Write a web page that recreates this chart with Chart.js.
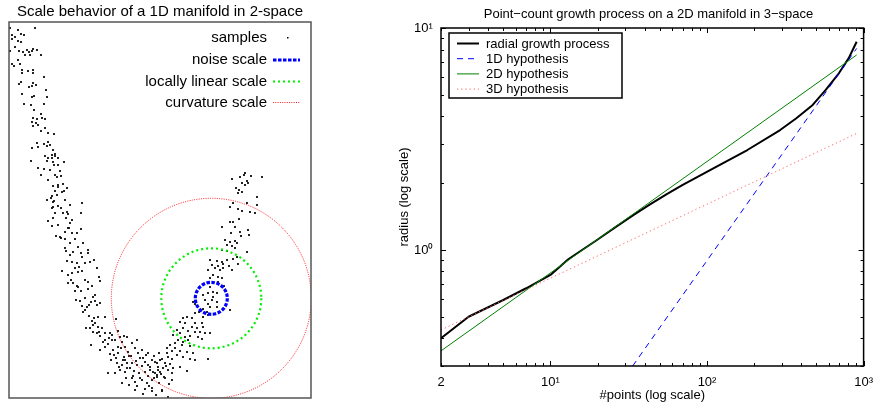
<!DOCTYPE html>
<html><head><meta charset="utf-8">
<script src="https://cdn.jsdelivr.net/npm/chart.js@4.4.0/dist/chart.umd.min.js"></script>
<style>
html,body{margin:0;padding:0;background:#fff;overflow:hidden;width:882px;height:406px;}
#cL{position:absolute;left:0;top:0;width:320px;height:406px;}
#cR{position:absolute;left:380px;top:0;width:502px;height:406px;}
</style></head><body>
<canvas id="cL" width="320" height="406"></canvas>
<canvas id="cR" width="502" height="406"></canvas>
<script>
// ---------- Left panel data ----------
const leftTitle = 'Scale behavior of a 1D manifold in 2-space';
const leftLegendLabels = ['samples', 'noise scale', 'locally linear scale', 'curvature scale'];
const samplePoints = [
[1,370],[9,368],[26,370],[3,363],[12,364],[15,363],[6,361],[3,359],[9,357],[12,356],[1,347],[6,351],[10,347],[14,346],[18,348],[20,346],[23,347],[24,349],[28,348],[21,343],[32,343],[16,343],[9,338],[3,334],[5,332],[11,334],[13,328],[19,327],[24,328],[24,325],[13,325],[35,321],[12,316],[10,314],[24,315],[27,313],[23,312],[20,311],[37,308],[13,304],[23,301],[25,302],[38,301],[15,294],[22,293],[35,294],[25,288],[32,284],[24,280],[28,279],[33,280],[36,279],[23,276],[27,275],[29,273],[24,272],[36,270],[32,267],[39,265],[45,264],[28,255],[35,254],[39,256],[23,250],[29,251],[38,252],[41,253],[44,248],[43,243],[46,244],[36,242],[39,240],[43,240],[46,242],[49,240],[22,237],[38,237],[44,236],[55,236],[45,233],[49,233],[29,230],[35,229],[41,228],[51,227],[46,223],[32,223],[52,222],[39,218],[48,221],[49,213],[54,214],[58,210],[44,212],[49,211],[46,207],[53,206],[55,207],[43,202],[48,203],[38,198],[42,200],[45,197],[56,198],[49,192],[44,191],[61,193],[73,195],
[44,196],[43,190],[46,185],[54,185],[58,186],[59,184],[72,185],[44,180],[39,177],[63,178],[61,175],[49,173],[43,172],[59,170],[72,169],[56,166],[63,165],[68,165],[47,162],[51,161],[56,159],[66,159],[61,155],[74,155],[69,151],[57,147],[64,146],[72,145],[79,148],[79,145],[61,143],[73,141],[85,138],[63,136],[68,135],[76,135],[81,136],[70,131],[88,130],[53,127],[63,125],[69,126],[73,127],[59,123],[76,118],[90,121],[79,116],[59,115],[64,115],[91,117],[83,112],[69,111],[66,107],[72,107],[79,109],[86,103],[84,101],[67,98],[86,97],[91,95],[82,96],[73,92],[78,91],[80,93],[88,93],[76,88],[85,80],[83,77],[89,81],[96,81],[107,79],[86,75],[77,70],[81,70],[89,71],[93,70],[84,66],[88,65],[96,65],[101,65],[91,62],[103,63],[109,67],[111,61],[118,61],[82,53],[94,56],[99,54],[103,58],[109,51],[96,51],[113,56],[116,51],[91,48],[101,44],[105,43],[109,45],[115,41],[122,42],[129,45],[133,48],[139,45],[134,40],[116,38],[102,38],[108,35],[113,33],[118,35],[123,35],[128,33],[133,32],[139,33],[143,38],[148,35],[153,39],[111,28],[116,26],[121,30],[125,27],[130,25],[136,26],[141,28],[146,25],[151,26],[99,25],[106,25],[113,15],[123,20],[126,16],[133,18],[138,15],[143,18],[148,23],[155,21],[126,8],[136,9],[143,7],[153,7],[120,13],
[223,219],[235,223],[253,221],[231,221],[238,217],[239,215],[236,213],[233,215],[227,210],[230,208],[229,205],[233,206],[248,201],[224,195],[238,195],[248,193],[221,191],[229,189],[233,187],[241,186],[246,185],[230,179],[221,176],[224,176],[213,171],[226,171],[239,168],[231,166],[222,165],[240,163],[232,162],[216,158],[221,156],[226,157],[228,155],[218,153],[223,152],[226,150],[213,148],[218,147],[238,146],[228,141],[201,138],[208,137],[213,136],[218,138],[224,139],[203,133],[209,132],[214,134],[220,132],[229,134],[199,128],[206,130],[211,128],[214,130],[223,128],[204,123],[209,121],[213,120],[201,120],[209,116],[215,112],[201,111],[204,106],[199,105],[208,105],[204,101],[194,103],[196,98],[203,98],[208,96],[199,94],[184,96],[186,94],[208,91],[201,91],[194,89],[198,86],[221,88],[190,86],[186,85],[178,81],[174,80],[183,80],[194,81],[199,83],[171,76],[176,75],[186,75],[193,75],[183,71],[188,70],[194,71],[168,68],[174,70],[179,67],[186,66],[191,66],[196,65],[201,65],[164,63],[171,65],[176,61],[181,62],[189,61],[169,58],[174,56],[179,58],[193,59],[161,53],[166,55],[173,53],[181,52],[166,50],[171,47],[178,46],[184,45],[158,45],[159,41],[163,39],[168,43],[174,41],[181,39],[186,38],[199,39],[151,38],[156,35],[161,34],[146,36],[149,31],[154,30],[159,28],[164,30],[171,31],[178,27],[144,26],[152,24],[156,20],[163,18],[148,21],[153,8],[143,10],[159,1],[236,225],[242,222],
[104,48],[112,50],[119,46],[126,50],[131,40],[137,43],[145,42],[150,45],[158,50],[163,47],[107,40],[114,38],[120,42],[127,37],[136,36],[141,31],[149,28],[157,32],[163,25],[110,31],[118,30],[124,22],[131,20],[139,22],[145,20],[150,15],[160,14],[117,20],[128,12],[140,12],[134,4],[147,3],[106,58],[115,62],[123,55],[128,58],[100,60],[96,58],[90,66],[84,73],[80,82],[74,86],[71,97],[76,100],[68,112],[62,118],[66,130],[58,137],[56,150],[52,160],[60,170],[57,180],[52,190]
];
const circleCenter = [202.3, 99.7];
const circleRadii = [16, 50, 100];   // noise, locally linear, curvature

// ---------- Right panel data ----------
const rightTitle = 'Point\u2212count growth process on a 2D manifold in 3\u2212space';
const seriesLabels = ['radial growth process', '1D hypothesis', '2D hypothesis', '3D hypothesis'];
const radialN = [2, 3, 5, 7, 10, 13, 19.5, 26.6, 34, 43, 55, 69.5, 112, 181, 293, 372, 473, 573, 695, 802, 862, 903];
const radialR = [0.40, 0.50, 0.595, 0.672, 0.772, 0.908, 1.10, 1.28, 1.44, 1.60, 1.78, 1.96, 2.35, 2.82, 3.47, 3.92, 4.50, 5.26, 6.25, 7.30, 8.10, 8.67];
const hyp1N = [33.5, 903], hyp1R = [0.30, 8.09];
const hyp2N = [2, 903],    hyp2R = [0.351, 7.56];
const hyp3N = [2, 903],    hyp3R = [0.436, 3.35];
const xTickValues = [2,3,4,5,6,7,8,9,10,20,30,40,50,60,70,80,90,100,200,300,400,500,600,700,800,900,1000];
const xTickText   = ['2','','','','','','','','10\u00B9','','','','','','','','','10\u00B2','','','','','','','','','10\u00B3'];
const yTickValues = [0.3,0.4,0.5,0.6,0.7,0.8,0.9,1,2,3,4,5,6,7,8,9,10];
const yTickText   = ['','','','','','','','10\u2070','','','','','','','','','10\u00B9'];
const xAxisTitle = '#points (log scale)';
const yAxisTitle = 'radius (log scale)';

const FONT = "'Liberation Sans', Arial, Helvetica, sans-serif";

// ---------- Left chart ----------
const circleStyles = [
  {color:'#0000ff', width:3.2, dash:[3.5,1.5]},
  {color:'#00ee00', width:2.2, dash:[2,3]},
  {color:'rgba(255,0,0,0.9)', width:1, dash:[1,1.3]}
];
const circlesPlugin = {
  id:'circles',
  afterDatasetsDraw(chart){
    const {ctx, chartArea:a, scales:{x,y}} = chart;
    ctx.save();
    ctx.beginPath(); ctx.rect(a.left, a.top, a.right-a.left, a.bottom-a.top); ctx.clip();
    const cx = x.getPixelForValue(circleCenter[0]), cy = y.getPixelForValue(circleCenter[1]);
    for (let i = circleRadii.length-1; i >= 0; i--) {
      const r = x.getPixelForValue(circleCenter[0] + circleRadii[i]) - cx;
      const s = circleStyles[i];
      ctx.strokeStyle = s.color; ctx.lineWidth = s.width; ctx.setLineDash(s.dash);
      ctx.beginPath(); ctx.arc(cx, cy, r, 0, Math.PI*2); ctx.stroke();
    }
    ctx.restore();
  }
};
const frameLPlugin = {
  id:'frameL',
  afterDraw(chart){
    const {ctx, chartArea:a} = chart;
    ctx.save(); ctx.strokeStyle='#555'; ctx.lineWidth=1.5; ctx.setLineDash([]);
    ctx.strokeRect(a.left, a.top, a.right-a.left, a.bottom-a.top);
    ctx.restore();
  }
};
const legendLPlugin = {
  id:'legendL',
  afterDraw(chart){
    const {ctx, chartArea:a} = chart;
    const rowsY = [15.5, 38, 59.5, 80.5];
    const textRight = a.left + 258, lineL = a.left + 264, lineR = a.left + 291;
    ctx.save();
    ctx.font = '15px ' + FONT; ctx.fillStyle = '#000'; ctx.textAlign = 'right'; ctx.textBaseline = 'middle';
    leftLegendLabels.forEach((lab, i) => {
      const yy = a.top + rowsY[i];
      ctx.fillText(lab, textRight, yy);
      if (i === 0) {
        ctx.fillStyle = '#000'; ctx.fillRect(a.left + 278, yy - 0.5, 1.5, 1.5);
      } else {
        const s = circleStyles[i-1];
        ctx.strokeStyle = s.color; ctx.lineWidth = s.width; ctx.setLineDash(s.dash);
        ctx.beginPath(); ctx.moveTo(lineL, yy); ctx.lineTo(lineR, yy); ctx.stroke();
      }
    });
    ctx.restore();
  }
};
new Chart(document.getElementById('cL'), {
  type:'scatter',
  data:{datasets:[{label:leftLegendLabels[0], data:samplePoints.map(p=>({x:p[0], y:p[1]})),
    pointStyle:'rect', pointRadius:1.3, backgroundColor:'#111', borderWidth:0}]},
  options:{
    responsive:false, animation:false, devicePixelRatio:1,
    layout:{padding:{left:9, right:9, top:0, bottom:8}},
    scales:{
      x:{type:'linear', min:0, max:302, display:false},
      y:{type:'linear', min:0, max:376, display:false}
    },
    plugins:{
      legend:{display:false}, tooltip:{enabled:false},
      title:{display:true, text:leftTitle, color:'#000', font:{family:FONT, size:15, weight:'normal'}, padding:{top:2.5, bottom:1.5}}
    }
  },
  plugins:[circlesPlugin, frameLPlugin, legendLPlugin]
});

// ---------- Right chart ----------
const isMajor = v => Math.abs(Math.log10(v) - Math.round(Math.log10(v))) < 1e-9;
const axisFramePlugin = {
  id:'axisFrame',
  afterDraw(chart){
    const {ctx, chartArea:a, scales:{x,y}} = chart;
    ctx.save(); ctx.strokeStyle='#000'; ctx.lineWidth=1; ctx.setLineDash([]);
    ctx.beginPath();
    x.ticks.forEach(t => {
      const p = Math.round(x.getPixelForValue(t.value)) + 0.5, L = isMajor(t.value) ? 5 : 3;
      ctx.moveTo(p, a.bottom); ctx.lineTo(p, a.bottom - L);
      ctx.moveTo(p, a.top); ctx.lineTo(p, a.top + L);
    });
    y.ticks.forEach(t => {
      const p = Math.round(y.getPixelForValue(t.value)) + 0.5, L = isMajor(t.value) ? 5 : 3;
      ctx.moveTo(a.left, p); ctx.lineTo(a.left + L, p);
      ctx.moveTo(a.right, p); ctx.lineTo(a.right - L, p);
    });
    ctx.stroke();
    ctx.lineWidth = 1.5;
    ctx.strokeRect(a.left, a.top, a.right-a.left, a.bottom-a.top);
    ctx.restore();
  }
};
const legendRPlugin = {
  id:'legendR',
  afterDraw(chart){
    const {ctx, chartArea:a} = chart;
    const bx = a.left + 8, by = a.top + 5, bw = 173, bh = 65;
    ctx.save();
    ctx.fillStyle = '#fff'; ctx.fillRect(bx, by, bw, bh);
    ctx.strokeStyle = '#000'; ctx.lineWidth = 1.5; ctx.setLineDash([]);
    ctx.strokeRect(bx, by, bw, bh);
    ctx.font = '13px ' + FONT; ctx.textAlign = 'left'; ctx.textBaseline = 'middle';
    chart.data.datasets.forEach((ds, i) => {
      const yy = a.top + 15.5 + i * 15.2;
      ctx.strokeStyle = ds.borderColor; ctx.lineWidth = ds.borderWidth; ctx.setLineDash(ds.borderDash || []);
      ctx.beginPath(); ctx.moveTo(a.left + 16, yy); ctx.lineTo(a.left + 38, yy); ctx.stroke();
      ctx.fillStyle = '#000'; ctx.fillText(ds.label, a.left + 45, yy + 0.5);
    });
    ctx.restore();
  }
};
const toXY = (ns, rs) => ns.map((n, i) => ({x:n, y:rs[i]}));
new Chart(document.getElementById('cR'), {
  type:'line',
  data:{datasets:[
    {label:seriesLabels[0], data:toXY(radialN, radialR), borderColor:'#000', borderWidth:2, pointRadius:0, tension:0, borderJoinStyle:'round', order:3},
    {label:seriesLabels[1], data:toXY(hyp1N, hyp1R), borderColor:'#0000ff', borderWidth:1, borderDash:[6,5], pointRadius:0, order:2},
    {label:seriesLabels[2], data:toXY(hyp2N, hyp2R), borderColor:'#008000', borderWidth:1, pointRadius:0, order:1},
    {label:seriesLabels[3], data:toXY(hyp3N, hyp3R), borderColor:'#ff6060', borderWidth:1, borderDash:[1.2,3], pointRadius:0, order:0}
  ]},
  options:{
    responsive:false, animation:false, devicePixelRatio:1,
    layout:{padding:{left:45, right:10, top:0, bottom:0}},
    scales:{
      x:{type:'logarithmic', min:2, max:1000,
        afterBuildTicks: s => { s.ticks = xTickValues.map(v => ({value:v})); },
        afterFit: s => { s.height = 40; },
        ticks:{autoSkip:false, maxRotation:0, minRotation:0, padding:9, color:'#000', font:{family:FONT, size:13},
          callback:(v, i) => xTickText[i]},
        grid:{display:false, drawTicks:false}, border:{display:false},
        title:{display:true, text:xAxisTitle, color:'#000', font:{family:FONT, size:13}, padding:{top:0, bottom:3}}
      },
      y:{type:'logarithmic', min:0.3, max:10,
        afterBuildTicks: s => { s.ticks = yTickValues.map(v => ({value:v})); },
        afterFit: s => { s.width = 16; },
        ticks:{autoSkip:false, mirror:true, crossAlign:'near', padding:-27, color:'#000', font:{family:FONT, size:13},
          callback:(v, i) => yTickText[i]},
        grid:{display:false, drawTicks:false}, border:{display:false},
        title:{display:true, text:yAxisTitle, color:'#000', font:{family:FONT, size:13}, padding:{top:-28.8, bottom:0}}
      }
    },
    plugins:{
      legend:{display:false}, tooltip:{enabled:false},
      title:{display:true, text:rightTitle, color:'#000', font:{family:FONT, size:13, weight:'normal'}, padding:{top:6.5, bottom:5.9}}
    }
  },
  plugins:[axisFramePlugin, legendRPlugin]
});
</script></body></html>
